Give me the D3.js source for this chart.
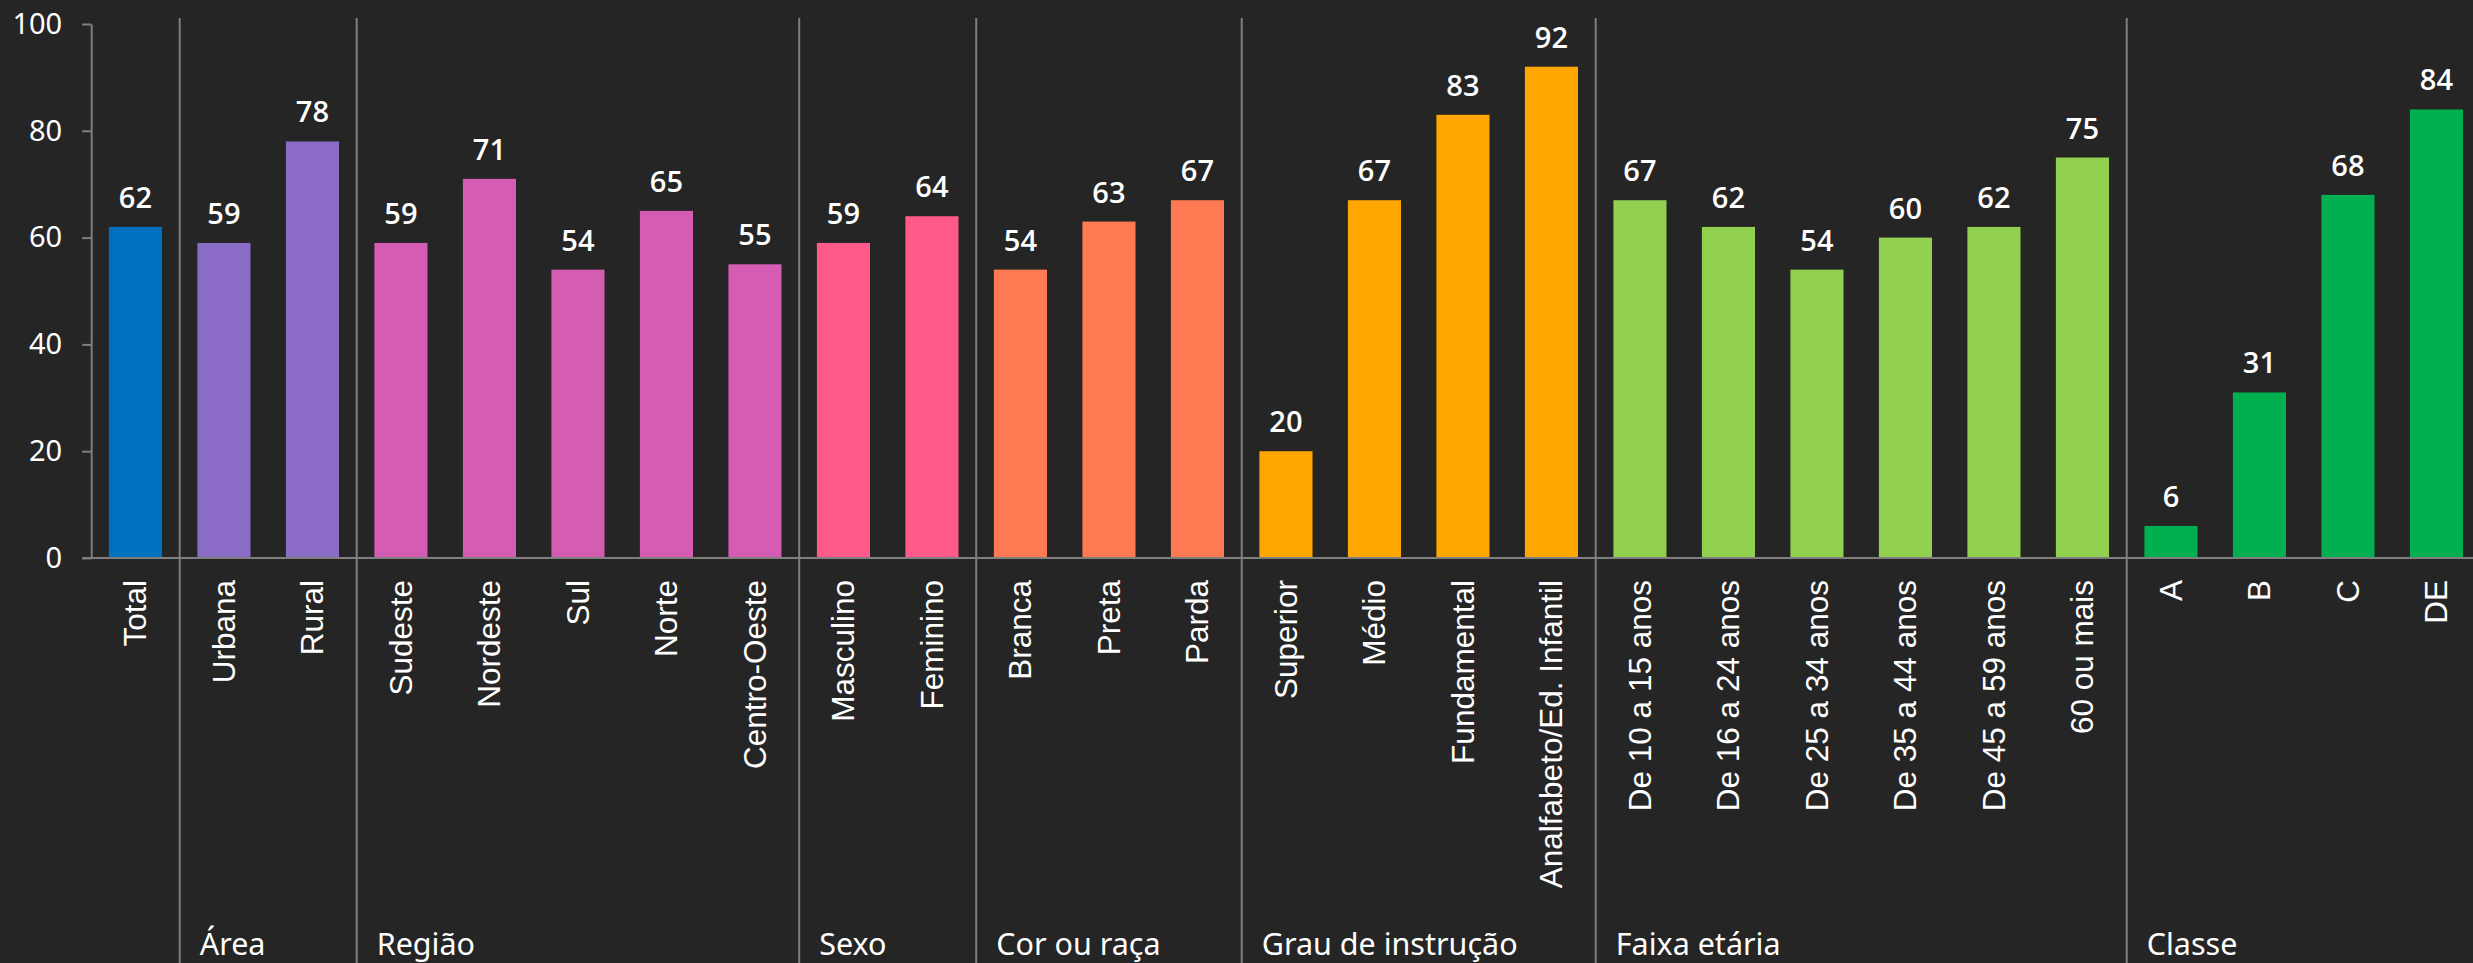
<!DOCTYPE html>
<html>
<head>
<meta charset="utf-8">
<script src="https://cdn.jsdelivr.net/npm/d3@7"></script>
<style>
  html, body { margin: 0; padding: 0; background: #252525; }
  svg { display: block; }
</style>
</head>
<body>
<div id="chart"></div>
<script>
// groups of categories, in order
const groupNames = ["", "Área", "Região", "Sexo", "Cor ou raça", "Grau de instrução", "Faixa etária", "Classe"];
const groupSizes = [1, 2, 5, 2, 3, 4, 6, 4];
const groupColors = ["#0070C0", "#8A6CC6", "#D55CB3", "#FF5A8A", "#FF7A52", "#FFA600", "#92D050", "#00AF50"];

const categories = [
    "Total",
    "Urbana", "Rural",
    "Sudeste", "Nordeste", "Sul", "Norte", "Centro-Oeste",
    "Masculino", "Feminino",
    "Branca", "Preta", "Parda",
    "Superior", "Médio", "Fundamental", "Analfabeto/Ed. Infantil",
    "De 10 a 15 anos", "De 16 a 24 anos", "De 25 a 34 anos", "De 35 a 44 anos", "De 45 a 59 anos", "60 ou mais",
    "A", "B", "C", "DE"
];
const values = [
    62,
    59, 78,
    59, 71, 54, 65, 55,
    59, 64,
    54, 63, 67,
    20, 67, 83, 92,
    67, 62, 54, 60, 62, 75,
    6, 31, 68, 84
];
const yTicks = [0, 20, 40, 60, 80, 100];

const W = 2473, H = 963;
const plotLeft = 91.2, plotTop = 24, baseY = 558;
const step = 88.5;

// group index for each category
let groupOf = [];
groupSizes.forEach(function(n, g) { for (let i = 0; i < n; i++) groupOf.push(g); });

let svg = d3.select("#chart").append("svg")
    .attr("width", W)
    .attr("height", H);

let x = d3.scaleBand()
    .domain(categories)
    .range([plotLeft, plotLeft + step * categories.length])
    .paddingInner(0.4)
    .paddingOuter(0.2);

let y = d3.scaleLinear()
    .domain([0, 100])
    .range([baseY, plotTop]);

const gray = "#7f7f7f";

// y axis
let yAxis = svg.append("g")
    .attr("transform", "translate(" + plotLeft + ",0)")
    .call(d3.axisLeft(y).tickValues(yTicks).tickSize(9).tickSizeOuter(0).tickPadding(20));
yAxis.select(".domain").attr("stroke", gray).attr("stroke-width", 2);
yAxis.selectAll(".tick line").attr("stroke", gray).attr("stroke-width", 2);
yAxis.selectAll(".tick text")
    .attr("fill", "#ffffff")
    .style("font-family", "'Noto Sans', 'Open Sans', sans-serif")
    .style("font-size", "29px");

// group separators
let starts = [];
let acc = 0;
groupSizes.forEach(function(n) { starts.push(acc); acc += n; });
let sepX = function(i) { return x(categories[i]) - x.step() * x.paddingInner() / 2; };

svg.append("g").selectAll("line")
    .data(starts.slice(1))
    .join("line")
    .attr("x1", d => sepX(d)).attr("x2", d => sepX(d))
    .attr("y1", 18).attr("y2", H)
    .attr("stroke", gray)
    .attr("stroke-width", 2);

// baseline
svg.append("line")
    .attr("x1", plotLeft - 9).attr("x2", W)
    .attr("y1", baseY).attr("y2", baseY)
    .attr("stroke", gray)
    .attr("stroke-width", 2);

// bars
svg.append("g").selectAll("rect")
    .data(categories)
    .join("rect")
    .attr("x", d => x(d))
    .attr("width", x.bandwidth())
    .attr("y", (d, i) => y(values[i]))
    .attr("height", (d, i) => baseY - y(values[i]) - 1)
    .attr("fill", (d, i) => groupColors[groupOf[i]]);

// value labels
svg.append("g").selectAll("text")
    .data(categories)
    .join("text")
    .attr("x", d => x(d) + x.bandwidth() / 2)
    .attr("y", (d, i) => y(values[i]) - 19)
    .attr("text-anchor", "middle")
    .attr("fill", "#ffffff")
    .style("font-family", "'Open Sans', 'Noto Sans', sans-serif")
    .style("font-weight", 600)
    .style("font-size", "29px")
    .text((d, i) => values[i]);

// category labels, rotated
svg.append("g").selectAll("text")
    .data(categories)
    .join("text")
    .attr("transform", d => "translate(" + (x(d) + x.bandwidth() / 2) + "," + (baseY + 22) + ") rotate(-90)")
    .attr("text-anchor", "end")
    .attr("dy", "0.35em")
    .attr("fill", "#ffffff")
    .style("font-family", "'Liberation Sans', Arial, sans-serif")
    .style("font-size", "31.5px")
    .text(d => d);

// group names along the bottom
svg.append("g").selectAll("text")
    .data(starts.slice(1))
    .join("text")
    .attr("x", d => sepX(d) + 20)
    .attr("y", 955)
    .attr("fill", "#ffffff")
    .style("font-family", "'Noto Sans', 'Open Sans', sans-serif")
    .style("font-size", "30.5px")
    .text((d, i) => groupNames[i + 1]);
</script>
</body>
</html>
